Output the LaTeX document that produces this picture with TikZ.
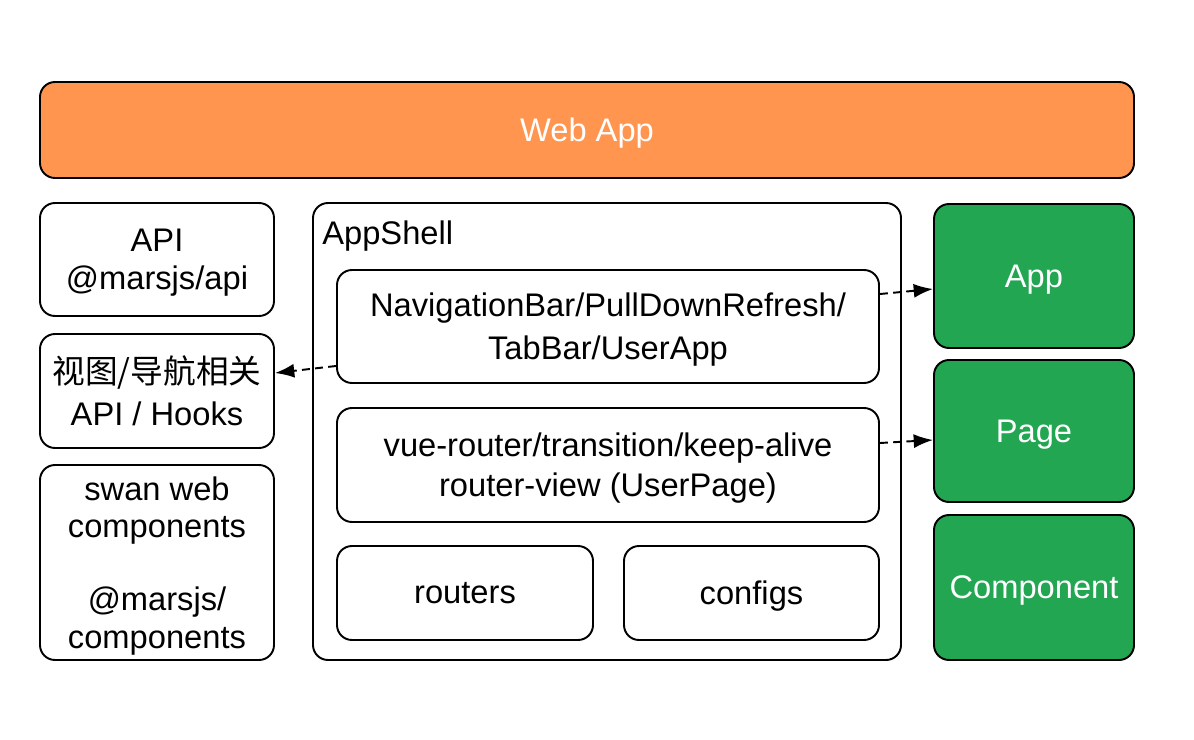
\documentclass[tikz,border=0pt]{standalone}
\usepackage{fontspec}
\setmainfont{Liberation Sans}
\newfontfamily\cjk{Noto Sans CJK SC}
\usetikzlibrary{arrows.meta}
\definecolor{webapporange}{HTML}{FF954F}
\definecolor{partgreen}{HTML}{22A652}
\begin{document}
\begin{tikzpicture}[x=0.02cm, y=-0.02cm,
        every node/.style={font=\fontsize{18.6}{21.5}\selectfont, align=center, inner sep=0pt, text depth=0pt},
        box/.style={draw, line width=1.1pt, rounded corners=0.3cm, fill=white},
        webbox/.style={box, fill=webapporange, text=white},
        greenbox/.style={box, fill=partgreen, text=white},
        arrow/.style={-{Latex[length=11pt, width=8pt]}, line width=1.1pt, dash pattern=on 4.5pt off 3pt}
    ]
        \useasboundingbox (0,0) rectangle (1194,740);

        % Top bar
        \node[webbox, minimum width=1094*0.02cm, minimum height=96*0.02cm] (webapp) at (587,130) {Web App};

        % Left column
        \node[box, minimum width=234*0.02cm, minimum height=113*0.02cm] (api) at (157,259.5) {API\\@marsjs/api};
        \node[box, minimum width=234*0.02cm, minimum height=114*0.02cm] (hooks) at (157,391) {{\cjk 视图/导航相关}\\[2.5pt]API / Hooks};
        \node[box, minimum width=234*0.02cm, minimum height=195*0.02cm] (swan) at (157,562.5) {swan web\\components\\[20pt]@marsjs/\\components};

        % AppShell
        \node[box, minimum width=588*0.02cm, minimum height=457*0.02cm] (appshell) at (607,431.5) {};
        \node[anchor=west] (shelltitle) at (322,233) {AppShell};
        \node[box, minimum width=542*0.02cm, minimum height=113*0.02cm] (navbar) at (608,326.5) {NavigationBar/PullDownRefresh/\\[3pt]TabBar/UserApp};
        \node[box, minimum width=542*0.02cm, minimum height=114*0.02cm] (router) at (608,465) {vue-router/transition/keep-alive\\[1.3pt]router-view (UserPage)};
        \node[box, minimum width=256*0.02cm, minimum height=94*0.02cm] (routers) at (465,593) {routers};
        \node[box, minimum width=255*0.02cm, minimum height=94*0.02cm] (configs) at (751.5,593) {configs};

        % Right column
        \node[greenbox, minimum width=200*0.02cm, minimum height=144*0.02cm] (app) at (1034,276) {App};
        \node[greenbox, minimum width=200*0.02cm, minimum height=142*0.02cm] (page) at (1034,431) {Page};
        \node[greenbox, minimum width=200*0.02cm, minimum height=145*0.02cm] (component) at (1034,587.5) {Component};

        \draw[arrow] ([yshift=0.65cm]navbar.east) -- ([yshift=-0.26cm]app.west);
        \draw[arrow] ([yshift=-0.79cm]navbar.west) -- ([yshift=0.36cm]hooks.east);
        \draw[arrow] ([yshift=0.44cm]router.east) -- ([yshift=-0.18cm]page.west);
    \end{tikzpicture}
\end{document}
